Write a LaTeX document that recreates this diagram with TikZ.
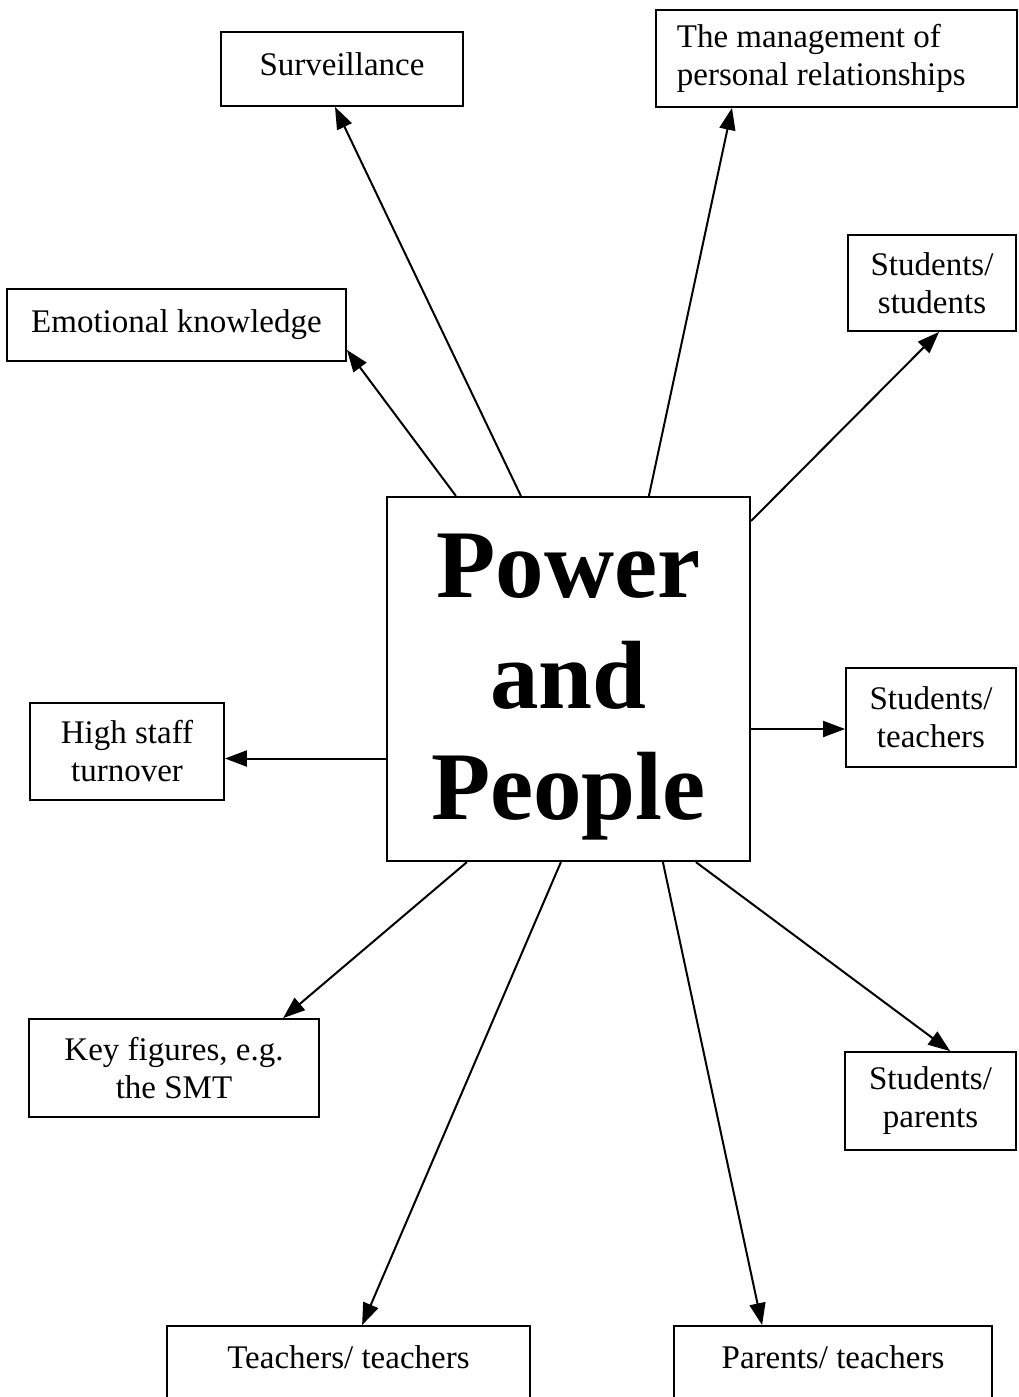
\documentclass[tikz,border=0pt]{standalone}
\usepackage{fontspec}
\setmainfont{Liberation Serif}
\usetikzlibrary{arrows.meta}
\usetikzlibrary{calc}

\begin{document}
\begin{tikzpicture}[x=1pt,y=-1pt,
  box/.style={draw,line width=1.8pt,align=center,inner sep=0pt,font=\fontsize{33}{38}\selectfont},
  hub/.style={draw,line width=2.2pt,align=center,inner sep=0pt,font=\fontsize{97}{111}\selectfont\bfseries},
  arr/.style={line width=2pt,-{Triangle[length=22pt,width=16pt]}}]
  \useasboundingbox (0,0) rectangle (1018,1397);
  \clip (0,0) rectangle (1018,1397);
  \node[hub,text height=302pt,minimum width=363pt,minimum height=364pt] (pp) at (568.5,679) {Power\\and\\People};
  \node[box,text depth=10pt,minimum width=242pt,minimum height=74pt] (surv) at (342,69) {Surveillance};
  \node[box,anchor=west,align=flush left,text width=319pt,inner xsep=21pt,minimum height=97pt] (mgmt) at (655,58.5) {The management of\\personal relationships};
  \node[box,minimum width=168pt,minimum height=96pt] (stst) at (932,283) {Students/\\students};
  \node[box,minimum width=339pt,minimum height=72pt] (emo) at (176.5,325) {Emotional knowledge};
  \node[box,minimum width=194pt,minimum height=97pt] (high) at (127,751.5) {High staff\\turnover};
  \node[box,minimum width=170pt,minimum height=99pt] (stte) at (931,717.5) {Students/\\teachers};
  \node[box,minimum width=290pt,minimum height=98pt] (key) at (174,1068) {Key figures, e.g.\\the SMT};
  \node[box,minimum width=171pt,minimum height=98pt] (stpa) at (930.5,1101) {Students/\\parents};
  \node[box,text depth=12pt,minimum width=363pt,minimum height=74pt] (tete) at (348.5,1363) {Teachers/ teachers};
  \node[box,text depth=12pt,minimum width=318pt,minimum height=74pt] (pate) at (833,1363) {Parents/ teachers};
  \coordinate (hiend) at ($(high.east)+(0,7)$);
  \coordinate (stend) at ($(stte.west)+(0,11.5)$);
  \draw[arr] ($(pp.north west)+(135,0)$) -- ($(surv.south)+(-7,0)$);
  \draw[arr] ($(pp.north west)+(263,0)$) -- ($(mgmt.south west)+(77,0)$);
  \draw[arr] ($(pp.north east)+(0,25)$) -- ($(stst.south west)+(92,0)$);
  \draw[arr] ($(pp.north west)+(70,0)$) -- ($(emo.south east)+(0,-12)$);
  \draw[arr] (pp.west |- hiend) -- (hiend);
  \draw[arr] (pp.east |- stend) -- (stend);
  \draw[arr] ($(pp.south west)+(81,0)$) -- ($(key.north west)+(255,0)$);
  \draw[arr] ($(pp.south west)+(310,0)$) -- ($(stpa.north west)+(106,0)$);
  \draw[arr] ($(pp.south west)+(175,0)$) -- ($(tete.north west)+(196,0)$);
  \draw[arr] ($(pp.south west)+(277,0)$) -- ($(pate.north west)+(89,0)$);
\end{tikzpicture}
\end{document}
